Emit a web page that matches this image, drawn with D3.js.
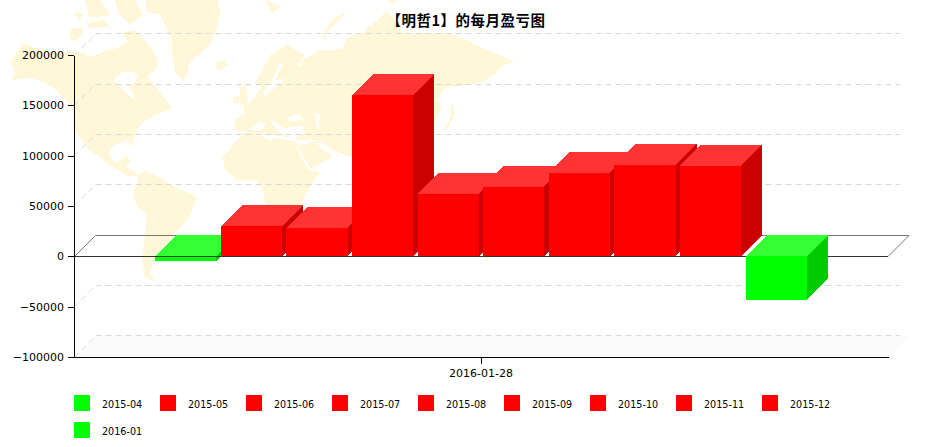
<!DOCTYPE html>
<html><head><meta charset="utf-8">
<script src="https://cdn.jsdelivr.net/npm/d3@7"></script>
<style>
html,body{margin:0;padding:0;background:#fff}
svg{display:block}
text{font-family:"DejaVu Sans",sans-serif;fill:#000}
</style></head><body>
<svg id="c" width="931" height="447"></svg>
<script>
const titleText = "【明哲1】的每月盈亏图";
const months = ["2015-04","2015-05","2015-06","2015-07","2015-08","2015-09","2015-10","2015-11","2015-12","2016-01"];
const profit = [-5000,29800,28000,160000,62300,69300,82900,90900,89900,-43200];
const yTicks = [-100000,-50000,0,50000,100000,150000,200000];
const dateLabels = ["2016-01-28"];

// decorative background picture (world map), not data
const mapLand = [
 [[10,62],[24,43],[40,50],[60,52],[72,52],[85,53],[88,57],[100,53],[108,50],[118,48],[122,44],[132,42],[140,46],[146,52],[152,58],[159,62],[155,70],[147,76],[158,90],[172,108],[160,113],[150,118],[143,122],[137,130],[133,140],[134,146],[131,145],[128,140],[113,145],[109,152],[112,160],[118,163],[122,158],[128,155],[130,162],[125,166],[135,172],[138,176],[128,176],[110,165],[97,155],[87,148],[75,130],[72,107],[53,87],[33,78],[12,80],[15,72]],
 [[70,30],[82,27],[83,33],[75,42],[70,38]],[[75,10],[83,15],[80,20],[75,16]],[[87,23],[103,20],[110,27],[90,28]],[[85,0],[100,0],[110,15],[90,18]],[[115,0],[135,0],[143,15],[130,25],[118,12]],
 [[122,33],[135,30],[145,40],[158,58],[150,63],[135,50]],
 [[145,0],[218,0],[220,12],[216,30],[210,45],[190,62],[187,75],[183,81],[175,72],[172,55],[172,40],[165,25],[160,15],[147,12]],
 [[214,63],[225,60],[228,65],[218,71]],
 [[240,87],[247,85],[247,100],[250,107],[240,105]],[[233,97],[239,96],[239,103],[234,103]],
 [[138,175],[145,171],[158,177],[177,188],[197,197],[193,207],[188,220],[177,230],[165,245],[155,257],[150,273],[155,281],[145,278],[142,260],[144,243],[147,213],[138,208],[133,195],[138,180]],
 [[235,120],[245,113],[243,107],[255,98],[262,85],[255,83],[270,55],[287,45],[305,55],[300,62],[307,58],[320,50],[333,50],[343,48],[347,38],[363,32],[380,18],[387,10],[403,33],[430,33],[450,33],[470,42],[487,50],[515,62],[503,65],[497,73],[483,82],[470,85],[445,88],[437,100],[442,107],[437,117],[430,135],[430,200],[400,220],[370,200],[352,157],[345,155],[332,150],[320,140],[300,140],[275,135],[247,132],[235,130]],
 [[237,140],[245,133],[253,133],[270,140],[278,138],[295,142],[300,147],[308,170],[320,172],[310,187],[303,200],[303,213],[300,240],[280,250],[270,225],[267,207],[262,190],[257,180],[237,180],[225,170],[223,157]],
 [[298,146],[320,140],[332,157],[310,170]],
 [[343,13],[332,20],[322,35],[327,43],[325,33],[345,15]],[[265,0],[282,7],[272,13]],
 [[443,130],[450,120],[452,100],[455,115],[448,128]],[[388,0],[396,0],[394,4]],[[482,254],[490,254],[487,262]]
];
const mapWater = [
 [[113,80],[123,72],[133,72],[138,75],[135,83],[128,85],[137,100],[130,97],[118,85]],
 [[280,63],[283,65],[275,80],[286,79],[278,85],[265,96],[263,93],[272,80]],[[296,63],[305,63],[300,67]],
 [[247,130],[260,122],[266,124],[262,130]],[[270,120],[280,133],[293,139],[305,133],[303,126],[284,128]],
 [[287,118],[298,114],[304,120],[290,121]],[[315,113],[321,115],[318,122],[321,131],[316,125]],
 [[295,145],[298,147],[311,170],[308,170]],[[316,143],[320,143],[331,152],[326,153]]
];

const svg = d3.select("#c");
const depth = 21;
const gridDrop = 21.3;
const plot = {left:74.5, right:888};
const y = d3.scaleLinear().domain([-100000,200000]).range([357,55]);
const xDate = d3.scaleBand().domain(dateLabels).range([74,888]);
const x = d3.scaleBand().domain(months).range([155.3,806.7]).paddingInner(0.07);
const color = d3.scaleOrdinal().domain(["gain","loss"]).range(["#ff0000","#00ff00"]);
const topC = {"#ff0000":"#ff3333","#00ff00":"#33ff33"}, sideC = {"#ff0000":"#cc0000","#00ff00":"#00cc00"};
const colorOf = v => color(v>=0?"gain":"loss");
const poly = d3.line();

// background map
const gm = svg.append("g").attr("shape-rendering","crispEdges");
gm.selectAll(".l").data(mapLand).join("path").attr("d",d=>poly(d)+"Z").attr("fill","#fff7d8");
gm.selectAll(".w").data(mapWater).join("path").attr("d",d=>poly(d)+"Z").attr("fill","#fff");

// floor
const y0 = y(-100000);
svg.append("path").attr("fill","#fafafa")
  .attr("d",poly([[plot.left,y0],[plot.left+depth,y0-depth],[plot.right+depth,y0-depth],[plot.right,y0]])+"Z");

// grid
const grid = svg.append("g");
yTicks.filter(t=>t!==0).forEach(t=>{
  const gy = Math.floor(y(t)-gridDrop)+.5;
  grid.append("line").attr("x1",plot.left+depth).attr("x2",900).attr("y1",gy).attr("y2",gy)
    .attr("stroke","#d9d9d9").attr("stroke-dasharray","6 4");
  grid.append("line").attr("x1",plot.left).attr("x2",plot.left+depth).attr("y1",y(t)).attr("y2",y(t)-depth)
    .attr("stroke","#d9d9d9").attr("stroke-dasharray","6 4");
});

// zero plane
const z = Math.floor(y(0))+.5;
svg.append("path").attr("fill","none").attr("stroke","#777")
  .attr("d",poly([[plot.left,z],[plot.left+depth,z-depth],[plot.right+depth,z-depth],[plot.right,z]]));

function drawBar(g,d,i){
  const x0=x(months[i]), x1=x0+x.bandwidth(), c=colorOf(d);
  const a=y(Math.max(d,0)), b=y(Math.min(d,0));
  const s=d3.select(g).attr("shape-rendering","crispEdges");
  s.append("path").attr("fill",topC[c]).attr("d",poly([[x0,a],[x0+depth,a-depth],[x1+depth,a-depth],[x1,a]])+"Z");
  s.append("path").attr("fill",sideC[c]).attr("d",poly([[x1,a],[x1+depth,a-depth],[x1+depth,b-depth],[x1,b]])+"Z");
  s.append("rect").attr("x",x0).attr("y",a).attr("width",x.bandwidth()).attr("height",b-a).attr("fill",c);
}
const bars = svg.append("g");
bars.selectAll("g").data(profit.slice(0,-1)).join("g").each(function(d,i){drawBar(this,d,i);});

// front zero line
svg.append("line").attr("x1",plot.left).attr("x2",plot.right).attr("y1",z).attr("y2",z).attr("stroke","#333");

svg.append("g").datum(profit[profit.length-1]).each(function(d){drawBar(this,d,profit.length-1);});

// axes
const ay = svg.append("g").attr("transform","translate(74,0)")
  .call(d3.axisLeft(y).tickValues(yTicks).tickFormat(d3.format("d")).tickSize(6).tickSizeOuter(0).tickPadding(4));
const ax = svg.append("g").attr("transform","translate(0,357)")
  .call(d3.axisBottom(xDate).tickSize(7).tickSizeOuter(0).tickPadding(5));
[ay,ax].forEach(a=>{a.selectAll("path,line").attr("stroke","#000").attr("shape-rendering","crispEdges");
  a.selectAll("text").attr("font-size",11).attr("font-family","'DejaVu Sans',sans-serif").attr("fill","#000");});

// title
svg.append("text").attr("x",466).attr("y",25.5).attr("text-anchor","middle").attr("letter-spacing",0.5)
  .attr("font-size",14.5).attr("font-weight","bold").style("font-family","'Noto Sans CJK SC',sans-serif").text(titleText);

// legend
const lg = svg.append("g").selectAll("g").data(months).join("g")
  .attr("transform",(d,i)=>`translate(${74+86*(i%9)},${395+27*Math.floor(i/9)})`);
lg.append("rect").attr("width",16).attr("height",16).attr("fill",(d,i)=>colorOf(profit[i]));
lg.append("text").attr("x",28).attr("y",12.5).attr("font-size",9.6).text(d=>d);
</script></body></html>
